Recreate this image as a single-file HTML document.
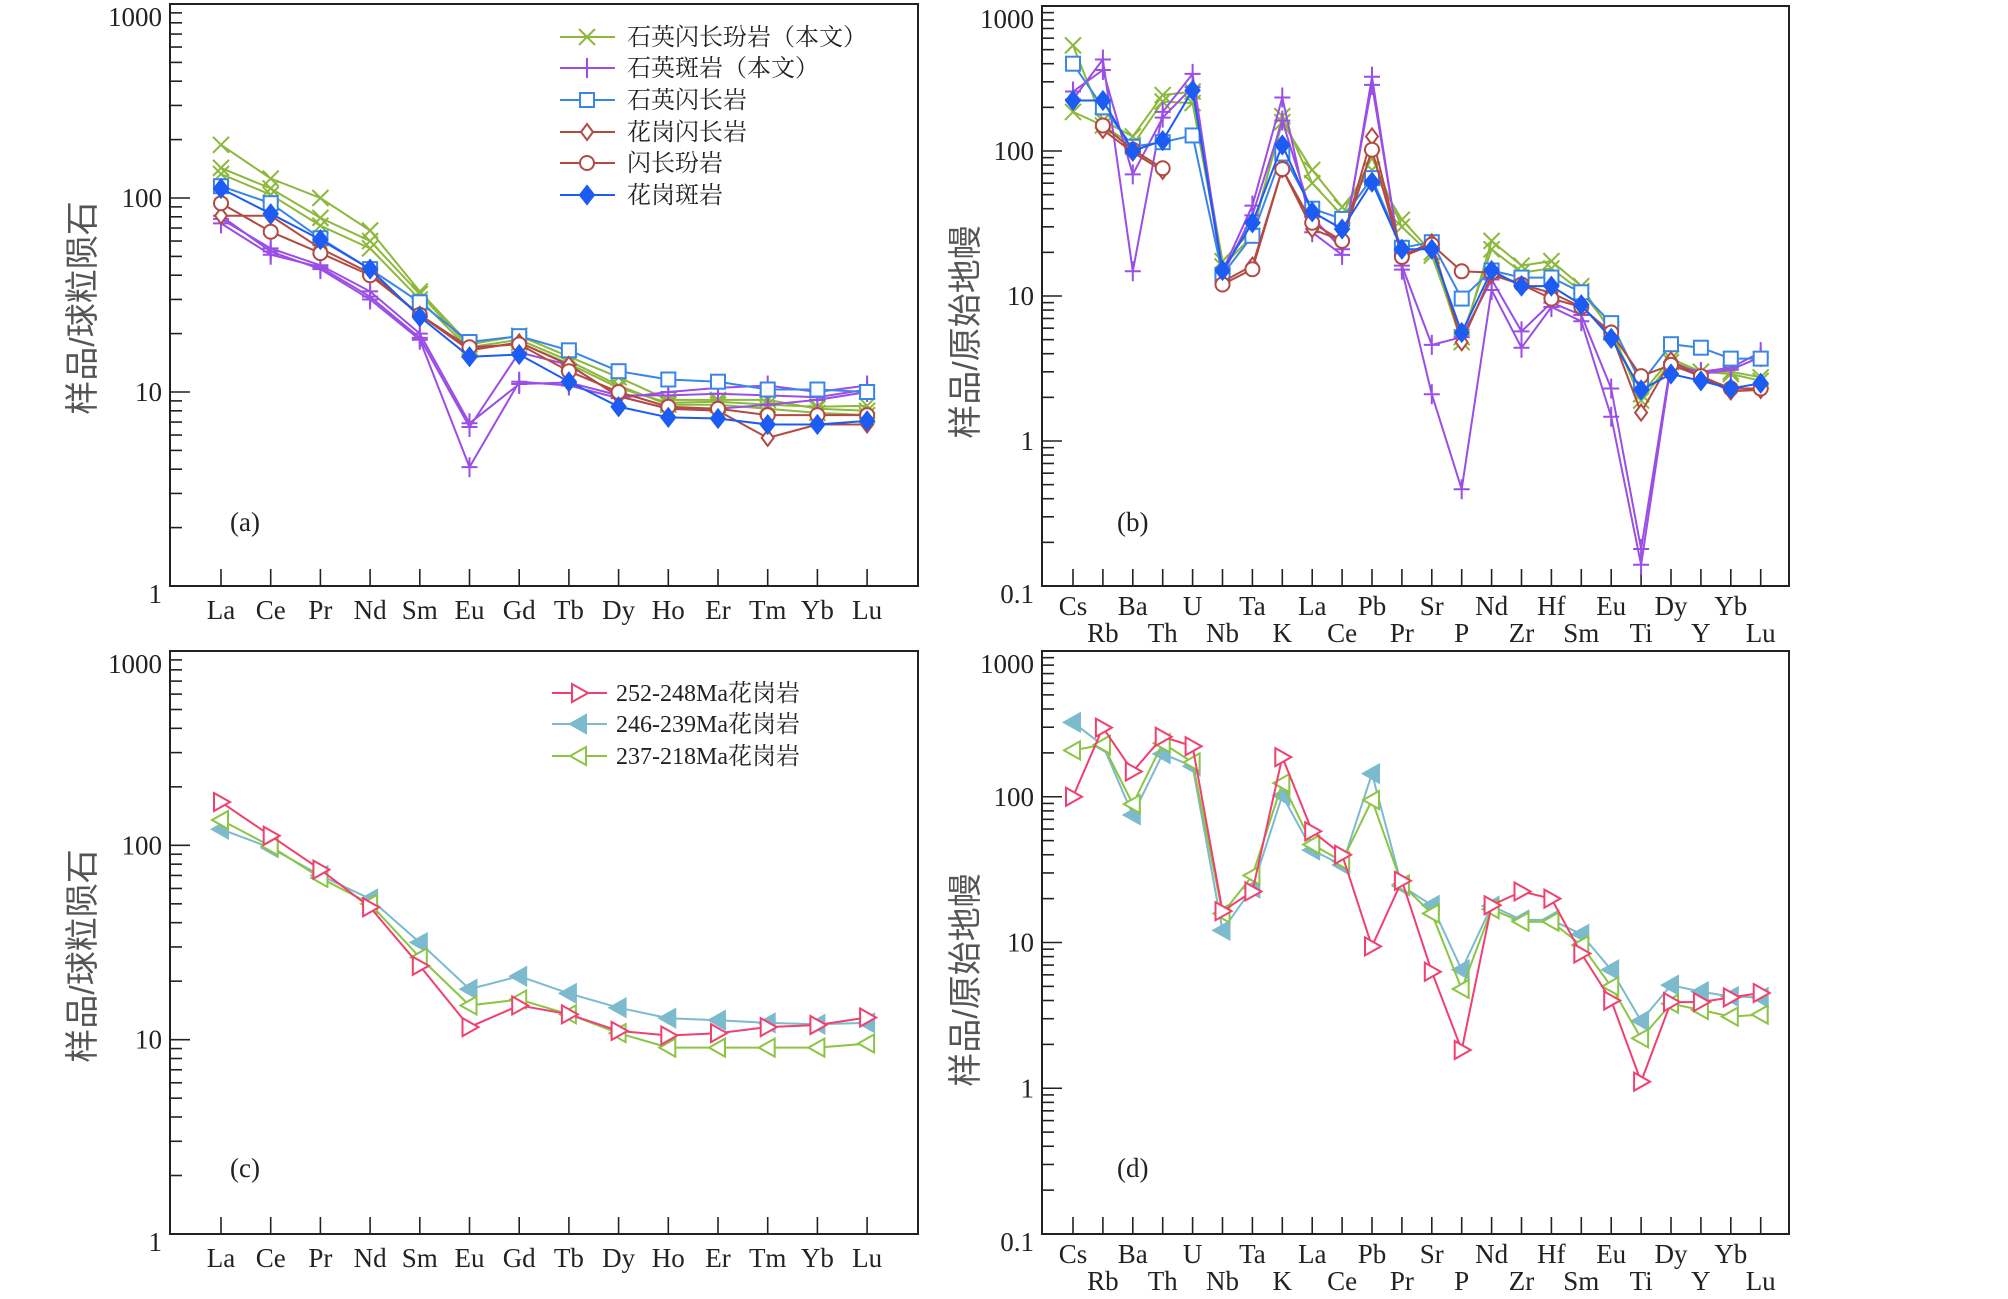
<!DOCTYPE html>
<html><head><meta charset="utf-8"><style>
html,body{margin:0;padding:0;background:#fff;}
svg{display:block;font-family:"Liberation Serif","Noto Serif CJK SC",serif;}
</style></head><body>
<svg id="fig" width="2008" height="1299" viewBox="0 0 2008 1299"></svg>
<script>
// ---------- data ----------
const reeCats = ["La","Ce","Pr","Nd","Sm","Eu","Gd","Tb","Dy","Ho","Er","Tm","Yb","Lu"];
const spiderCats = ["Cs","Rb","Ba","Th","U","Nb","Ta","K","La","Ce","Pb","Pr","Sr","P","Nd","Zr","Hf","Sm","Eu","Ti","Dy","Y","Yb","Lu"];
const reeYTicks = [1,10,100,1000];
const reeYTickLabels = ["1","10","100","1000"];
const spiderYTicks = [0.1,1,10,100,1000];
const spiderYTickLabels = ["0.1","1","10","100","1000"];

// panel (a)
const aGreen1 = [188,126,100,68,33,17.6,19.5,15.2,11.9,9.1,9.1,9.1,8.2,8.0];
const aGreen2 = [143,112,79,60,32,17,18.6,14.5,10.8,8.6,8.6,8.2,7.8,7.6];
const aGreen3 = [133,104,72,55,30,16.5,18,14,10.5,8.8,8.9,8.6,8.4,8.5];
const aPurple1 = [81,53,43,30,18.6,4.1,11.3,10.8,9.3,10,10.5,10.8,10,10.8];
const aPurple2 = [74,51,44,31,19,6.6,16,13.8,9.5,8.2,8.2,8.6,9.1,10];
const aPurple3 = [78,55,45,33,20,6.9,11,11.2,9.6,9.6,9.8,9.6,9.4,10.3];
const aSquare = [115,94,62,43,29,18.1,19.4,16.4,12.8,11.6,11.3,10.3,10.3,10];
const aDiamond = [81,81,55,41,25,16.4,18,13.8,9.5,8.2,8,5.8,6.8,6.8];
const aCircle = [94,67,52,40,25,17,17.6,12.8,10,8.4,8.2,7.6,7.6,7.6];
const aFilled = [112,83,61,43,24.4,15.2,15.6,11.3,8.4,7.4,7.3,6.8,6.8,7.1];

// panel (b)
const bGreen1 = [535,162,126,243,257,17.4,28.5,158,74,41,74,33.6,20,4.8,24,16.2,17.4,11.7,5.6,2.1,3.7,3.0,3.0,2.75];
const bGreen2 = [186,150,110,219,214,16,26,174,60,36,90,30,19,5.2,21,14.5,15.5,10.8,5.9,1.9,3.5,3.0,2.9,2.6];
const bPurple1 = [227,428,14.8,186,340,14.8,42,234,27.5,19.2,325,15.2,2.1,0.465,11,4.4,8.4,6.7,1.47,0.14,3.35,3.0,3.2,4.1];
const bPurple2 = [257,362,69,170,276,14,36,162,35,21,286,16.2,4.6,5.2,13,5.7,9,7.4,2.3,0.18,3.5,2.9,3.1,3.8];
const bSquare = [400,200,107,115,128,14,26,96,40,34,65,21.5,23.5,9.6,15,13.4,13.4,10.6,6.5,2.5,4.65,4.4,3.7,3.7];
const bDiamond = [null,140,98,73,null,12.5,16.2,75,29,24,126,19,23.4,4.8,14,12,10.5,8.4,5.5,1.57,3.6,2.75,2.2,2.25];
const bCircle = [null,150,102,76,null,12,15.3,75,32,24,102,18.6,22.6,14.8,14.5,12,9.6,8.4,5.6,2.8,3.35,2.8,2.3,2.3];
const bFilled = [223,223,100,118,262,15,32,110,38,29,61,21,21,5.6,15,11.7,11.7,8.7,5.1,2.25,2.9,2.6,2.3,2.5];

// panel (c)
const c252 = [167,112,75,48,24,11.6,15,13.5,11.1,10.5,10.8,11.6,11.9,13];
const c246 = [121,97,70,53,31.6,18.2,21.2,17.3,14.6,12.9,12.6,12.2,12,12.2];
const c237 = [135,99,68,50,26.5,15,16.1,13.5,10.8,9.1,9.1,9.1,9.1,9.55];

// panel (d)
const d252 = [100,298,149,258,222,16.4,22.4,187,58,40,9.4,26.5,6.3,1.83,18,22.4,20,8.4,4,1.11,3.9,3.9,4.2,4.5];
const d246 = [324,225,75,197,162,12.1,23.6,102,43,34,144,24.4,18,6.5,17.8,14.3,14.3,11.4,6.5,2.9,5.1,4.6,4.26,4.2];
const d237 = [208,228,89,233,172,15.8,28.8,124,47,36,95,25,15.8,4.8,16.9,13.9,13.9,9.6,5,2.2,3.8,3.44,3.1,3.2];

// legends
const aLegendLabels = ["石英闪长玢岩（本文）","石英斑岩（本文）","石英闪长岩","花岗闪长岩","闪长玢岩","花岗斑岩"];
const cLegendLabels = ["252-248Ma花岗岩","246-239Ma花岗岩","237-218Ma花岗岩"];

// ---------- drawing ----------
const NS = "http://www.w3.org/2000/svg";
const svg = document.getElementById("fig");
function el(tag, attrs, parent){
  const e = document.createElementNS(NS, tag);
  for (const k in attrs) e.setAttribute(k, attrs[k]);
  (parent||svg).appendChild(e);
  return e;
}
function makePanel(cfg){
  const g = el("g", {});
  
  
  const lmin = Math.log10(cfg.ymin), lmax = Math.log10(cfg.ymax);
  const yScale = v => cfg.bottom - (Math.log10(v) - lmin) / (lmax - lmin) * (cfg.bottom - cfg.top);
  const xScale = i => cfg.xFirst + i * cfg.xStep;
  const fr = el("rect", {x:cfg.left, y:cfg.top, width:cfg.right-cfg.left, height:cfg.bottom-cfg.top, fill:"none", stroke:"#222", "stroke-width":2}, g);
  
  
  for (let d = Math.round(lmin); d < Math.round(lmax); d++){
    for (let m = 1; m <= 9; m++){
      const v = m * Math.pow(10, d);
      const y = yScale(v);
      const t = el("line", {x1:cfg.left, x2:cfg.left + (m===1?20:12), y1:y, y2:y, stroke:"#222", "stroke-width":1.6}, g);
      
      
    }
  }
  cfg.yTicks.forEach((v,i)=>{
    let y = yScale(v);
    if (i === cfg.yTicks.length-1) y += 13;
    if (i === 0) y += 8;
    const t = el("text", {x:cfg.left-8, y:y+9, "text-anchor":"end", "font-size":27, fill:"#222"}, g);
    t.textContent = cfg.yLabels[i];
    
    
  });
  cfg.cats.forEach((c,i)=>{
    const x = xScale(i);
    const t = el("line", {x1:x, x2:x, y1:cfg.bottom, y2:cfg.bottom-17, stroke:"#222", "stroke-width":1.6}, g);
    
    
    let ly = cfg.labelY;
    if (cfg.stagger && i % 2 === 1) ly = cfg.labelY2;
    const tl = el("text", {x:x, y:ly, "text-anchor":"middle", "font-size":27, fill:"#222"}, g);
    tl.textContent = c;
    
    
  });
  const yt = el("text", {x:0, y:0, "text-anchor":"middle", "font-size":34, fill:"#555", transform:`translate(${cfg.titleX},${cfg.titleY}) rotate(-90)`,
     style:'font-family:"Liberation Sans","Noto Sans CJK SC",sans-serif'}, g);
  yt.textContent = cfg.yTitle;
  
  
  const pl = el("text", {x:cfg.tagX, y:cfg.tagY, "font-size":27, fill:"#222"}, g);
  pl.textContent = cfg.tag;
  
  
  return {g, xScale, yScale};
}
function marker(parent, type, x, y, color){
  const s = 8;
  let m;
  const base = {stroke:color, "stroke-width":2, fill:"none"};
  if (type==="x") m = el("path", Object.assign(base,{d:`M${x-s},${y-s}L${x+s},${y+s}M${x-s},${y+s}L${x+s},${y-s}`}), parent);
  else if (type==="plus") m = el("path", Object.assign(base,{d:`M${x-s},${y}L${x+s},${y}M${x},${y-s-2}L${x},${y+s+2}`}), parent);
  else if (type==="square") m = el("rect", Object.assign(base,{x:x-7,y:y-7,width:14,height:14,fill:"#fff"}), parent);
  else if (type==="diamond") m = el("path", Object.assign(base,{d:`M${x},${y-8}L${x+6},${y}L${x},${y+8}L${x-6},${y}Z`,fill:"#fff"}), parent);
  else if (type==="circle") m = el("circle", Object.assign(base,{cx:x,cy:y,r:7,fill:"#fff"}), parent);
  else if (type==="fdiamond") m = el("path", Object.assign(base,{d:`M${x},${y-9}L${x+7},${y}L${x},${y+9}L${x-7},${y}Z`,fill:color}), parent);
  else if (type==="tri-r") m = el("path", Object.assign(base,{d:`M${x-7},${y-9}L${x+9},${y}L${x-7},${y+9}Z`,fill:"#fff"}), parent);
  else if (type==="tri-lf") m = el("path", Object.assign(base,{d:`M${x+7},${y-9}L${x-9},${y}L${x+7},${y+9}Z`,fill:color}), parent);
  else if (type==="tri-l") m = el("path", Object.assign(base,{d:`M${x+7},${y-9}L${x-9},${y}L${x+7},${y+9}Z`,fill:"#fff"}), parent);
  return m;
}
function series(panel, vals, color, type, name){
  const g = el("g", {}, panel.g);
  
  
  let d = "", pen = false;
  vals.forEach((v,i)=>{
    if (v === null){ pen = false; return; }
    d += (pen?"L":"M") + panel.xScale(i).toFixed(1) + "," + panel.yScale(v).toFixed(1);
    pen = true;
  });
  const p = el("path", {d, fill:"none", stroke:color, "stroke-width":2}, g);
  
  
  vals.forEach((v,i)=>{
    if (v === null) return;
    const m = marker(g, type, panel.xScale(i), panel.yScale(v), color);
    
    
  });
}
function legend(panel, items, x, ys, textX, name){
  const g = el("g", {}, panel.g);
  
  
  items.forEach((it,i)=>{
    const e = el("g", {}, g);
    
    
    el("line", {x1:x, x2:x+55, y1:ys[i], y2:ys[i], stroke:it.color, "stroke-width":2}, e);
    marker(e, it.type, x+27, ys[i], it.color);
    const t = el("text", {x:textX, y:ys[i]+8, "font-size":24, fill:"#222", style:'font-family:"Liberation Serif","Noto Serif CJK SC",serif'}, e);
    t.textContent = it.label;
  });
}

const GREEN="#8cb83c", PURPLE="#9a4ee6", SQ="#3a86e8", BROWN="#b24a44", BLUE="#1d5cf2";
const RED="#f04070", LBLUE="#7cbace", LGREEN="#8cc444";

const A = makePanel({name:"panel-a", left:170,right:918,top:4,bottom:586,ymin:1,ymax:1000,xFirst:221,xStep:49.7,
  cats:reeCats,yTicks:reeYTicks,yLabels:reeYTickLabels,labelY:619,stagger:false,yTitle:"样品/球粒陨石",titleX:94,titleY:308,tag:"(a)",tagX:230,tagY:531});
const B = makePanel({name:"panel-b", left:1042,right:1789,top:6,bottom:586,ymin:0.1,ymax:1000,xFirst:1073,xStep:29.9,
  cats:spiderCats,yTicks:spiderYTicks,yLabels:spiderYTickLabels,labelY:615,labelY2:642,stagger:true,yTitle:"样品/原始地幔",titleX:977,titleY:332,tag:"(b)",tagX:1117,tagY:531});
const C = makePanel({name:"panel-c", left:170,right:918,top:651,bottom:1234,ymin:1,ymax:1000,xFirst:221,xStep:49.7,
  cats:reeCats,yTicks:reeYTicks,yLabels:reeYTickLabels,labelY:1267,stagger:false,yTitle:"样品/球粒陨石",titleX:94,titleY:956,tag:"(c)",tagX:230,tagY:1177});
const D = makePanel({name:"panel-d", left:1042,right:1789,top:651,bottom:1234,ymin:0.1,ymax:1000,xFirst:1073,xStep:29.9,
  cats:spiderCats,yTicks:spiderYTicks,yLabels:spiderYTickLabels,labelY:1263,labelY2:1290,stagger:true,yTitle:"样品/原始地幔",titleX:977,titleY:980,tag:"(d)",tagX:1117,tagY:1177});

series(A,aGreen1,GREEN,"x","a-green-1"); series(A,aGreen2,GREEN,"x","a-green-2"); series(A,aGreen3,GREEN,"x","a-green-3");
series(A,aPurple1,PURPLE,"plus","a-purple-1"); series(A,aPurple2,PURPLE,"plus","a-purple-2"); series(A,aPurple3,PURPLE,"plus","a-purple-3");
series(A,aSquare,SQ,"square","a-square"); series(A,aDiamond,BROWN,"diamond","a-diamond"); series(A,aCircle,BROWN,"circle","a-circle");
series(A,aFilled,BLUE,"fdiamond","a-filled-diamond");

series(B,bGreen1,GREEN,"x","b-green-1"); series(B,bGreen2,GREEN,"x","b-green-2");
series(B,bPurple1,PURPLE,"plus","b-purple-1"); series(B,bPurple2,PURPLE,"plus","b-purple-2");
series(B,bSquare,SQ,"square","b-square"); series(B,bDiamond,BROWN,"diamond","b-diamond"); series(B,bCircle,BROWN,"circle","b-circle");
series(B,bFilled,BLUE,"fdiamond","b-filled-diamond");

series(C,c246,LBLUE,"tri-lf","c-246-239"); series(C,c237,LGREEN,"tri-l","c-237-218"); series(C,c252,RED,"tri-r","c-252-248");
series(D,d246,LBLUE,"tri-lf","d-246-239"); series(D,d237,LGREEN,"tri-l","d-237-218"); series(D,d252,RED,"tri-r","d-252-248");

legend(A,[{label:aLegendLabels[0],color:GREEN,type:"x"},{label:aLegendLabels[1],color:PURPLE,type:"plus"},{label:aLegendLabels[2],color:SQ,type:"square"},
  {label:aLegendLabels[3],color:BROWN,type:"diamond"},{label:aLegendLabels[4],color:BROWN,type:"circle"},{label:aLegendLabels[5],color:BLUE,type:"fdiamond"}],
  560,[37,68,100,132,163,195],627,"legend-a");
legend(C,[{label:cLegendLabels[0],color:RED,type:"tri-r"},{label:cLegendLabels[1],color:LBLUE,type:"tri-lf"},{label:cLegendLabels[2],color:LGREEN,type:"tri-l"}],
  552,[693,724,756],616,"legend-c");
</script>
</body></html>
